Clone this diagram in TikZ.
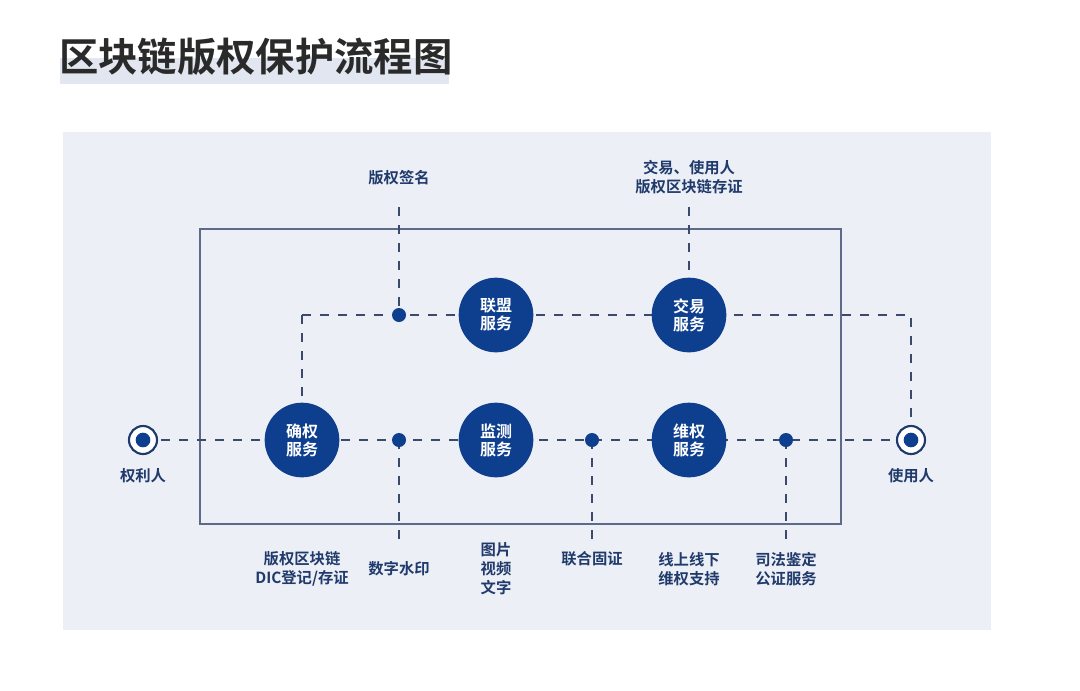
\documentclass[tikz,border=0pt]{standalone}
\usepackage{fontspec}
\setmainfont{Noto Sans CJK SC}[BoldFont={* Bold}]
\newfontfamily\cjkb{Noto Sans CJK SC Bold}
\definecolor{panel}{HTML}{ECEFF6}
\definecolor{navy}{HTML}{0E3F8E}
\definecolor{lbl}{HTML}{1F3A6B}
\definecolor{dash}{HTML}{3B4A6B}
\definecolor{frame}{HTML}{5D6A88}
\definecolor{ttl}{HTML}{2A2A2A}
\definecolor{hl}{HTML}{E2E6F0}
\begin{document}
\begin{tikzpicture}[x=0.75pt,y=-0.75pt,
  svc/.style={circle,fill=navy,inner sep=0pt,text=white,font=\cjkb\fontsize{12}{13.5}\selectfont,align=center,minimum size=56pt},
  dot/.style={circle,fill=navy,inner sep=0pt,minimum size=10.5pt},
  endring/.style={circle,draw=lbl,line width=1.6pt,fill=white,inner sep=0pt,minimum size=21pt},
  lab/.style={text=lbl,font=\cjkb\fontsize{11.5}{14.25}\selectfont,align=center,inner sep=0pt},
  dl/.style={draw=dash,line width=1.5pt,dash pattern=on 7pt off 6.5pt}]
\useasboundingbox (0,0) rectangle (1080,690);
\fill[white] (0,0) rectangle (1080,690);
% title
\fill[hl] (60,58) rectangle (449,84);
\node[anchor=west,text=ttl,font=\cjkb\fontsize{29.5}{32}\selectfont,inner sep=0pt] (title) at (59,57) {区块链版权保护流程图};
% panel
\fill[panel] (63,132) rectangle (991,630);
\draw[frame,line width=1.2pt] (200,229) rectangle (841,524);
% coordinates
\coordinate (tl) at (302,315);
\coordinate (tr) at (911,315);
\coordinate (sigtop) at (399,207);
\coordinate (jytop) at (689,207);
\coordinate (b1) at (399,543);
\coordinate (b2) at (592,546);
\coordinate (b3) at (786,546);
% dashed connectors (drawn first)
\draw[dl] (tl) -- (tr) -- (911,425);
\draw[dl] (tl) -- (302,403);
\draw[dl] (143,440) -- (911,440);
\draw[dl] (sigtop) -- (399,315);
\draw[dl] (jytop) -- (689,315);
\draw[dl] (399,440) -- (b1);
\draw[dl] (592,440) -- (b2);
\draw[dl] (786,440) -- (b3);
% service circles
\node[svc] (qq) at (302,440) {确权\\服务};
\node[svc] (jc) at (496,440) {监测\\服务};
\node[svc] (wq) at (689,440) {维权\\服务};
\node[svc] (lm) at (496,315) {联盟\\服务};
\node[svc] (jy) at (689,315) {交易\\服务};
% dots
\node[dot] (d1) at (399,315) {};
\node[dot] (d2) at (399,440) {};
\node[dot] (d3) at (592,440) {};
\node[dot] (d4) at (786,440) {};
% end points
\node[endring] (qlr) at (143,440) {};
\node[dot,minimum size=11pt] at (qlr) {};
\node[endring] (syr) at (911,440) {};
\node[dot,minimum size=11pt] at (syr) {};
% labels
\node[lab] (l1) at (399,178) {版权签名};
\node[lab] (l2) at (689,177) {交易、使用人\\版权区块链存证};
\node[lab] (l3) at (143,476) {权利人};
\node[lab] (l4) at (911,476) {使用人};
\node[lab] (l5) at (302,569) {版权区块链\\DIC登记/存证};
\node[lab] (l6) at (399,569) {数字水印};
\node[lab] (l7) at (496,569) {图片\\视频\\文字};
\node[lab] (l8) at (592,559) {联合固证};
\node[lab] (l9) at (689,569) {线上线下\\维权支持};
\node[lab] (l10) at (786,569) {司法鉴定\\公证服务};
\end{tikzpicture}
\end{document}
